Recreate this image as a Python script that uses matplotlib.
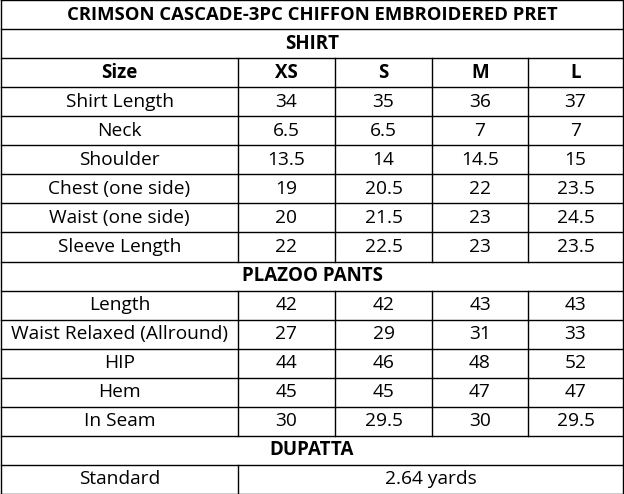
import matplotlib
matplotlib.use("Agg")
import matplotlib.pyplot as plt

title = "CRIMSON CASCADE-3PC CHIFFON EMBROIDERED PRET"
sizes = ["XS", "S", "M", "L"]
shirt_labels = ["Shirt Length", "Neck", "Shoulder", "Chest (one side)", "Waist (one side)", "Sleeve Length"]
shirt_vals = [["34", "35", "36", "37"], ["6.5", "6.5", "7", "7"], ["13.5", "14", "14.5", "15"],
              ["19", "20.5", "22", "23.5"], ["20", "21.5", "23", "24.5"], ["22", "22.5", "23", "23.5"]]
pants_labels = ["Length", "Waist Relaxed (Allround)", "HIP", "Hem", "In Seam"]
pants_vals = [["42", "42", "43", "43"], ["27", "29", "31", "33"], ["44", "46", "48", "52"],
              ["45", "45", "47", "47"], ["30", "29.5", "30", "29.5"]]
dupatta_label = "Standard"
dupatta_val = "2.64 yards"

W, H = 624, 494
fig = plt.figure(figsize=(6.24, 4.94), dpi=100)
ax = fig.add_axes([0, 0, 1, 1])
ax.set_xlim(0, W); ax.set_ylim(H, 0); ax.axis("off")
plt.rcParams['font.family'] = ['Open Sans', 'DejaVu Sans']

rh = H / 17
cols = [1, 238, 335, 432, 528, 623]
fs = 13.8
lw = 1.0

def hline(y, x0=1, x1=623):
    ax.plot([x0, x1], [y, y], color="black", lw=lw)

def vline(x, y0, y1):
    ax.plot([x, x], [y0, y1], color="black", lw=lw)

def cell_text(x, y, s, bold=False, size=fs):
    ax.text(x, y, s, ha="center", va="center", fontsize=size,
            fontweight="bold" if bold else "normal", color="black")

for i in range(18):
    hline(min(max(i * rh, 0.5), H - 0.5))
vline(1, 0, H); vline(623, 0, H)

cx = [(cols[i] + cols[i + 1]) / 2 for i in range(5)]
cell_text(W / 2, rh * 0.5, title, bold=True, size=13.3)
cell_text(W / 2, rh * 1.5, "SHIRT", bold=True, size=13.5)
r = 2
rows = [("Size", sizes, True)] + [(l, v, False) for l, v in zip(shirt_labels, shirt_vals)]
for lab, vals, b in rows:
    cell_text(cx[0], rh * (r + 0.5), lab, bold=b, size=13.5 if b else fs)
    for j, v in enumerate(vals):
        cell_text(cx[j + 1], rh * (r + 0.5), v, bold=b, size=13.5 if b else fs)
    for x in cols[1:-1]:
        vline(x, rh * r, rh * (r + 1))
    r += 1
cell_text(W / 2, rh * (r + 0.5), "PLAZOO PANTS", bold=True, size=13.5)
r += 1
for lab, vals in zip(pants_labels, pants_vals):
    cell_text(cx[0], rh * (r + 0.5), lab)
    for j, v in enumerate(vals):
        cell_text(cx[j + 1], rh * (r + 0.5), v)
    for x in cols[1:-1]:
        vline(x, rh * r, rh * (r + 1))
    r += 1
cell_text(W / 2, rh * (r + 0.5), "DUPATTA", bold=True, size=13.5)
r += 1
cell_text(cx[0], rh * (r + 0.5), dupatta_label)
cell_text((cols[1] + cols[-1]) / 2, rh * (r + 0.5), dupatta_val)
vline(cols[1], rh * r, rh * (r + 1))

fig.savefig("out.png", dpi=100, facecolor="white")
